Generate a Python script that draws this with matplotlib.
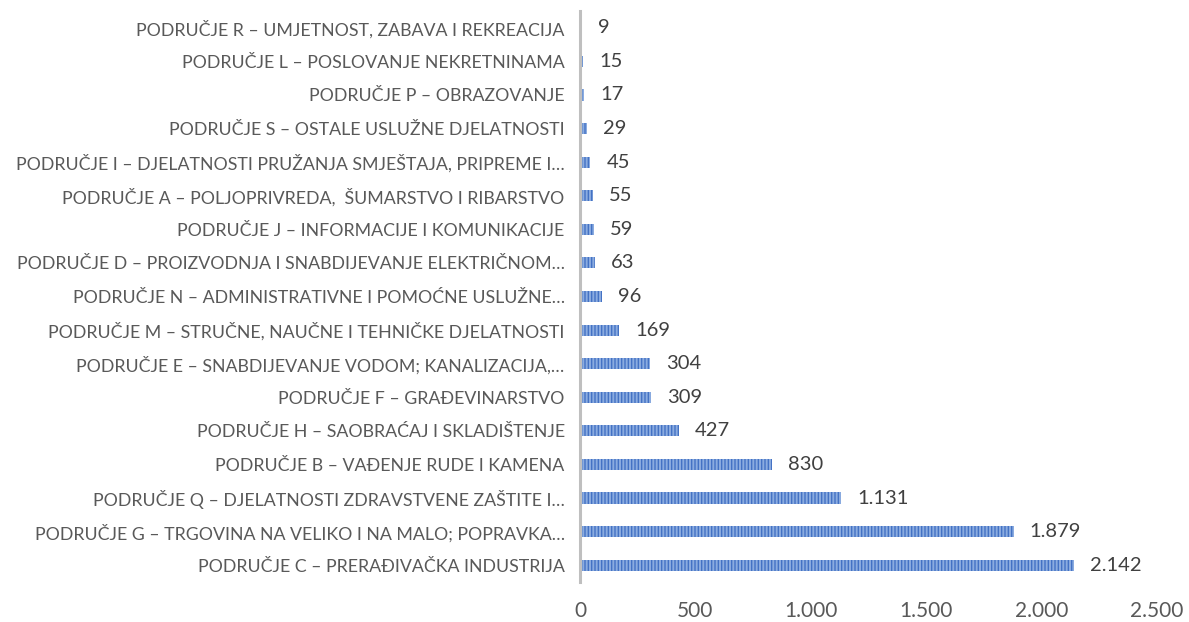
import matplotlib
matplotlib.use("Agg")
import matplotlib.pyplot as plt

categories = [
    "PODRUČJE R – UMJETNOST, ZABAVA I REKREACIJA",
    "PODRUČJE L – POSLOVANJE NEKRETNINAMA",
    "PODRUČJE P – OBRAZOVANJE",
    "PODRUČJE S – OSTALE USLUŽNE DJELATNOSTI",
    "PODRUČJE I – DJELATNOSTI PRUŽANJA SMJEŠTAJA, PRIPREME I…",
    "PODRUČJE A – POLJOPRIVREDA,  ŠUMARSTVO I RIBARSTVO",
    "PODRUČJE J – INFORMACIJE I KOMUNIKACIJE",
    "PODRUČJE D – PROIZVODNJA I SNABDIJEVANJE ELEKTRIČNOM…",
    "PODRUČJE N – ADMINISTRATIVNE I POMOĆNE USLUŽNE…",
    "PODRUČJE M – STRUČNE, NAUČNE I TEHNIČKE DJELATNOSTI",
    "PODRUČJE E – SNABDIJEVANJE VODOM; KANALIZACIJA,…",
    "PODRUČJE F – GRAĐEVINARSTVO",
    "PODRUČJE H – SAOBRAĆAJ I SKLADIŠTENJE",
    "PODRUČJE B – VAĐENJE RUDE I KAMENA",
    "PODRUČJE Q – DJELATNOSTI ZDRAVSTVENE ZAŠTITE I…",
    "PODRUČJE G – TRGOVINA NA VELIKO I NA MALO; POPRAVKA…",
    "PODRUČJE C – PRERAĐIVAČKA INDUSTRIJA",
]
values = [9, 15, 17, 29, 45, 55, 59, 63, 96, 169, 304, 309, 427, 830, 1131, 1879, 2142]
xticks = [0, 500, 1000, 1500, 2000, 2500]


def fmt(v):
    return f"{v:,}".replace(",", ".")


plt.rcParams["font.family"] = ["Lato", "DejaVu Sans"]
plt.rcParams["hatch.linewidth"] = 1.0
text_color = "#595959"

fig = plt.figure(figsize=(11.89, 6.22), dpi=100)
ax = fig.add_axes([580 / 1189, 1 - 582 / 622, (1157 - 580) / 1189, 571 / 622])

n = len(categories)
ypos = list(range(n - 1, -1, -1))
ax.barh(ypos, values, height=0.33, color="#8BACE0", edgecolor="#4472C4",
        hatch="|||||", linewidth=0)

for y, v in zip(ypos, values):
    ax.annotate(fmt(v), xy=(v, y), xytext=(11.5, 0), textcoords="offset points",
                ha="left", va="center", fontsize=14.5, color="#404040")

ax.set_xlim(0, 2500)
ax.set_ylim(-0.5, n - 0.5)
ax.set_yticks(ypos)
ax.set_yticklabels(categories, fontsize=12.8, color=text_color)
ax.set_xticks(xticks)
ax.set_xticklabels([fmt(t) for t in xticks], fontsize=15, color=text_color)
ax.tick_params(axis="both", length=0)
ax.tick_params(axis="y", pad=11)
ax.tick_params(axis="x", pad=14)

for s in ["top", "right", "bottom"]:
    ax.spines[s].set_visible(False)
ax.spines["left"].set_color("#BFBFBF")
ax.spines["left"].set_linewidth(2.2)

fig.savefig("out.png", dpi=100)
